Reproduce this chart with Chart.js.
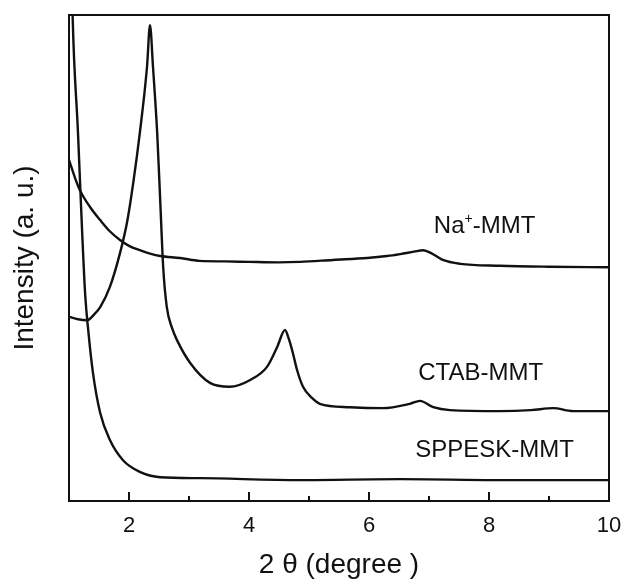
<!DOCTYPE html>
<html>
<head>
<meta charset="utf-8">
<script src="https://cdn.jsdelivr.net/npm/chart.js@4.4.0/dist/chart.umd.min.js"></script>
<style>
  html, body { margin: 0; padding: 0; background: #fff; }
  #wrap { width: 621px; height: 582px; }
</style>
</head>
<body>
<div id="wrap"><canvas id="xrdChart"></canvas></div>
<script>
// XRD patterns, 2 theta (degree) vs intensity (a. u.)

// Na+-MMT
var naX = [1.0, 1.1, 1.18, 1.35, 1.52, 1.68, 1.85, 2.0, 2.18, 2.35, 2.52, 2.85, 3.18, 3.6, 4.0, 4.5, 4.85, 5.4, 5.97, 6.3, 6.52, 6.75, 6.9, 7.05, 7.23, 7.52, 8.18, 9.0, 10.0];
var naY = [70.2, 66.5, 64.0, 60.5, 57.8, 55.5, 53.7, 52.5, 51.6, 50.9, 50.4, 50.0, 49.4, 49.3, 49.2, 49.1, 49.2, 49.6, 50.0, 50.4, 50.8, 51.3, 51.6, 50.9, 49.6, 48.8, 48.4, 48.2, 48.1];

// CTAB-MMT
var ctabX = [1.0, 1.15, 1.3, 1.42, 1.52, 1.68, 1.85, 1.97, 2.07, 2.18, 2.3, 2.35, 2.4, 2.47, 2.52, 2.57, 2.63, 2.72, 2.8, 3.02, 3.35, 3.68, 4.02, 4.3, 4.47, 4.6, 4.66, 4.73, 4.8, 4.9, 5.05, 5.18, 5.68, 6.23, 6.68, 6.85, 7.07, 7.35, 8.18, 8.7, 9.07, 9.4, 10.0];
var ctabY = [37.9, 37.4, 37.2, 38.4, 39.9, 44.0, 51.0, 57.5, 65.4, 75.7, 89.3, 97.9, 89.3, 75.7, 61.9, 48.1, 39.9, 35.5, 33.1, 28.4, 24.3, 23.5, 24.9, 27.6, 31.7, 35.2, 33.5, 30.5, 27.0, 23.5, 21.2, 20.0, 19.3, 19.1, 20.0, 20.6, 19.3, 18.7, 18.5, 18.7, 19.1, 18.5, 18.5];

// SPPESK-MMT
var sppX = [1.0, 1.06, 1.15, 1.22, 1.27, 1.32, 1.4, 1.52, 1.68, 1.9, 2.18, 2.52, 3.18, 4.85, 6.52, 8.18, 10.0];
var sppY = [140, 100, 75.7, 55.1, 42.4, 35.2, 26.3, 18.1, 12.6, 8.4, 6.0, 4.9, 4.7, 4.3, 4.5, 4.3, 4.3];

// axis ticks
var majorTicks = [2, 4, 6, 8, 10];
var minorTicks = [3, 5, 7, 9];

// curve names
var curveNames = ['Na+-MMT', 'CTAB-MMT', 'SPPESK-MMT'];

// where the names sit, in data units (left edge, baseline)
var nameAt = [[7.08, 55.1], [6.82, 24.9], [6.77, 9.05]];

function toPoints(xs, ys) {
  return xs.map(function (x, i) { return { x: x, y: ys[i] }; });
}

var ink = '#111';
var fontFam = '"Liberation Sans", Arial, Helvetica, sans-serif';
Chart.defaults.font.family = fontFam;
Chart.defaults.color = ink;

// frame, inward ticks and curve names
var framePlugin = {
  id: 'frame',
  afterDatasetsDraw: function (chart) {
    var ctx = chart.ctx;
    var a = chart.chartArea;
    var xs = chart.scales.x;
    var ys = chart.scales.y;
    ctx.save();
    ctx.strokeStyle = ink;
    ctx.lineWidth = 2;
    ctx.strokeRect(a.left, a.top, a.right - a.left, a.bottom - a.top);

    ctx.beginPath();
    majorTicks.forEach(function (v) {
      var px = xs.getPixelForValue(v);
      ctx.moveTo(px, a.bottom);
      ctx.lineTo(px, a.bottom - 9);
    });
    minorTicks.forEach(function (v) {
      var px = xs.getPixelForValue(v);
      ctx.moveTo(px, a.bottom);
      ctx.lineTo(px, a.bottom - 5);
    });
    ctx.stroke();

    ctx.fillStyle = ink;
    ctx.textBaseline = 'alphabetic';
    ctx.textAlign = 'left';
    curveNames.forEach(function (name, i) {
      var px = xs.getPixelForValue(nameAt[i][0]);
      var py = ys.getPixelForValue(nameAt[i][1]);
      var plus = name.indexOf('+');
      ctx.font = '24px ' + fontFam;
      if (plus > 0) {
        var head = name.slice(0, plus);
        var tail = name.slice(plus + 1);
        ctx.fillText(head, px, py);
        px += ctx.measureText(head).width;
        ctx.font = '14px ' + fontFam;
        ctx.fillText('+', px, py - 10);
        px += ctx.measureText('+').width;
        ctx.font = '24px ' + fontFam;
        ctx.fillText(tail, px, py);
      } else {
        ctx.fillText(name, px, py);
      }
    });
    ctx.restore();
  }
};

var lineStyle = {
  borderColor: ink,
  borderWidth: 2.4,
  pointRadius: 0,
  cubicInterpolationMode: 'monotone',
  fill: false
};

var ctx = document.getElementById('xrdChart').getContext('2d');
var xrdChart = new Chart(ctx, {
  type: 'line',
  data: {
    datasets: [
      Object.assign({ label: curveNames[0], data: toPoints(naX, naY) }, lineStyle),
      Object.assign({ label: curveNames[1], data: toPoints(ctabX, ctabY) }, lineStyle),
      Object.assign({ label: curveNames[2], data: toPoints(sppX, sppY) }, lineStyle)
    ]
  },
  options: {
    responsive: true,
    maintainAspectRatio: false,
    animation: false,
    layout: {
      padding: { top: 15, right: 12, left: 0, bottom: 0 }
    },
    scales: {
      x: {
        type: 'linear',
        min: 1,
        max: 10,
        afterBuildTicks: function (scale) {
          scale.ticks = majorTicks.map(function (v) { return { value: v }; });
        },
        afterFit: function (scale) {
          scale.height = 81;
          scale.paddingLeft = 0;
          scale.paddingRight = 0;
        },
        grid: { display: false, drawTicks: false },
        border: { display: false },
        ticks: {
          padding: 12,
          maxRotation: 0,
          font: { size: 22 }
        },
        title: {
          display: true,
          text: '2 θ (degree )',
          font: { size: 28 },
          padding: { top: 0, bottom: 0 }
        }
      },
      y: {
        min: 0,
        max: 100,
        afterFit: function (scale) {
          scale.width = 69;
          scale.paddingTop = 0;
          scale.paddingBottom = 0;
        },
        grid: { display: false, drawTicks: false },
        border: { display: false },
        ticks: { display: false },
        title: {
          display: true,
          text: 'Intensity (a. u.)',
          font: { size: 28 },
          padding: { top: 8, bottom: 0 }
        }
      }
    },
    plugins: {
      legend: { display: false },
      tooltip: { enabled: false }
    }
  },
  plugins: [framePlugin]
});
</script>
</body>
</html>
